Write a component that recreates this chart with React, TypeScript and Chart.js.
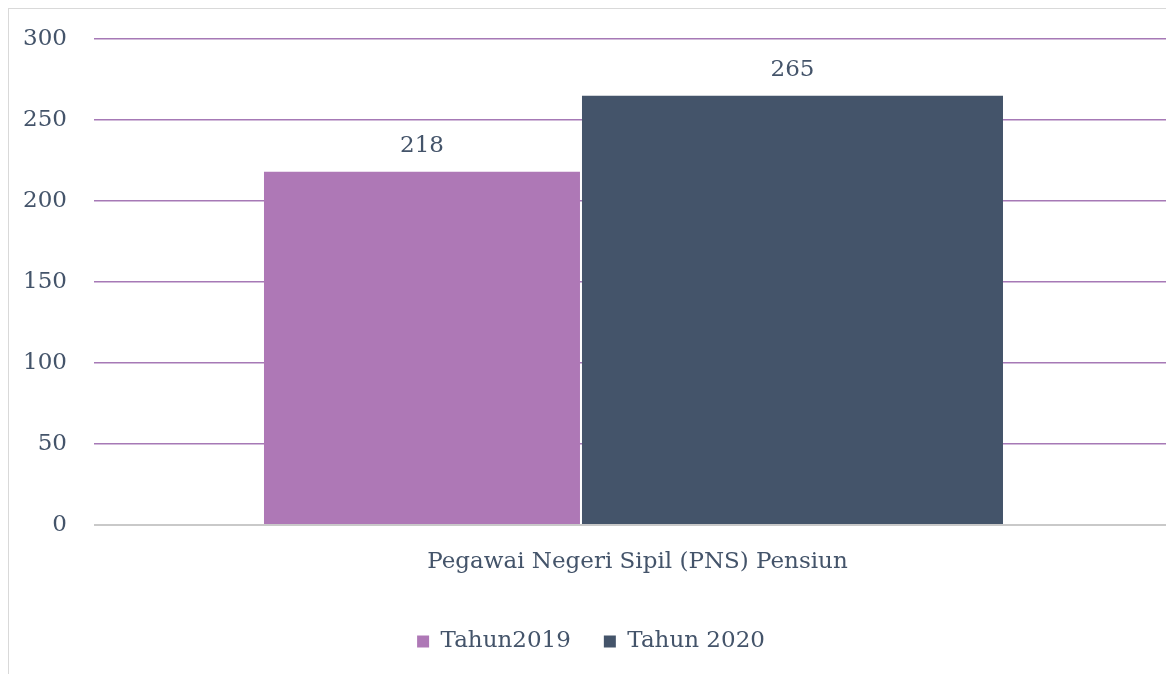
import React, { useEffect, useRef } from "react";
import { Chart, registerables } from "chart.js";

Chart.register(...registerables);

const categories = ["Pegawai Negeri Sipil (PNS) Pensiun"];
const seriesNames = ["Tahun2019", "Tahun 2020"];
const values2019 = [218];
const values2020 = [265];
const yTicks = [0, 50, 100, 150, 200, 250, 300];

const FONT = "'DejaVu Serif', serif";
const TEXT = "#44546A";
const PURPLE = "#AE78B6";
const NAVY = "#44546A";
const GRID = "#A679B6";

const dataLabels = {
  id: "dataLabels",
  afterDatasetsDraw(chart: any) {
    const ctx = chart.ctx;
    ctx.save();
    ctx.font = `23px ${FONT}`;
    ctx.fillStyle = TEXT;
    ctx.textAlign = "center";
    ctx.textBaseline = "middle";
    chart.data.datasets.forEach((ds: any, i: number) => {
      const meta = chart.getDatasetMeta(i);
      meta.data.forEach((el: any, j: number) => {
        ctx.fillText(String(ds.data[j]), el.x, el.y - 26);
      });
    });
    ctx.restore();
  },
};

export default function App() {
  const ref = useRef<HTMLCanvasElement>(null);
  useEffect(() => {
    if (!ref.current) return;
    const chart = new Chart(ref.current, {
      type: "bar",
      data: {
        labels: categories,
        datasets: [
          {
            label: seriesNames[0],
            data: values2019,
            backgroundColor: PURPLE,
            categoryPercentage: 0.7841,
            barPercentage: 0.747,
          },
          {
            label: seriesNames[1],
            data: values2020,
            backgroundColor: NAVY,
            categoryPercentage: 0.5894,
            barPercentage: 1.324,
          },
        ],
      },
      options: {
        responsive: false,
        animation: false,
        layout: { padding: { top: 0, left: 0, right: 6, bottom: 26 } },
        plugins: {
          tooltip: { enabled: false },
          legend: {
            position: "bottom",
            labels: {
              boxWidth: 12,
              boxHeight: 12,
              padding: 33,
              color: TEXT,
              font: { family: FONT, size: 23 },
            },
          },
        },
        scales: {
          x: {
            grid: { display: false, drawTicks: false },
            border: { display: false },
            ticks: {
              color: TEXT,
              font: { family: FONT, size: 23 },
              padding: 23,
              labelOffset: 4,
            },
            afterFit: (s: any) => {
              s.height = 72;
            },
          },
          y: {
            min: 0,
            max: 300,
            afterBuildTicks: (s: any) => {
              s.ticks = yTicks.map((v) => ({ value: v }));
            },
            grid: {
              drawTicks: false,
              color: (c: any) => (c.tick && c.tick.value === 0 ? "#C9C9C9" : GRID),
              lineWidth: (c: any) => (c.tick && c.tick.value === 0 ? 2 : 1.5),
            },
            border: { display: false },
            ticks: {
              color: TEXT,
              font: { family: FONT, size: 23, lineHeight: 0.26 },
              padding: 27,
            },
            afterFit: (s: any) => {
              s.width = 85;
            },
          },
        },
      },
      plugins: [dataLabels],
    });
    return () => chart.destroy();
  }, []);

  return (
    <div
      style={{
        position: "fixed",
        left: 8,
        top: 8,
        right: 0,
        bottom: 0,
        overflow: "hidden",
      }}
    >
      <div
        style={{
          borderLeft: "1px solid #d9d9d9",
          borderTop: "1px solid #d9d9d9",
          width: 1171,
          height: 681,
        }}
      >
        <canvas ref={ref} width={1170} height={680} style={{ display: "block" }} />
      </div>
    </div>
  );
}
